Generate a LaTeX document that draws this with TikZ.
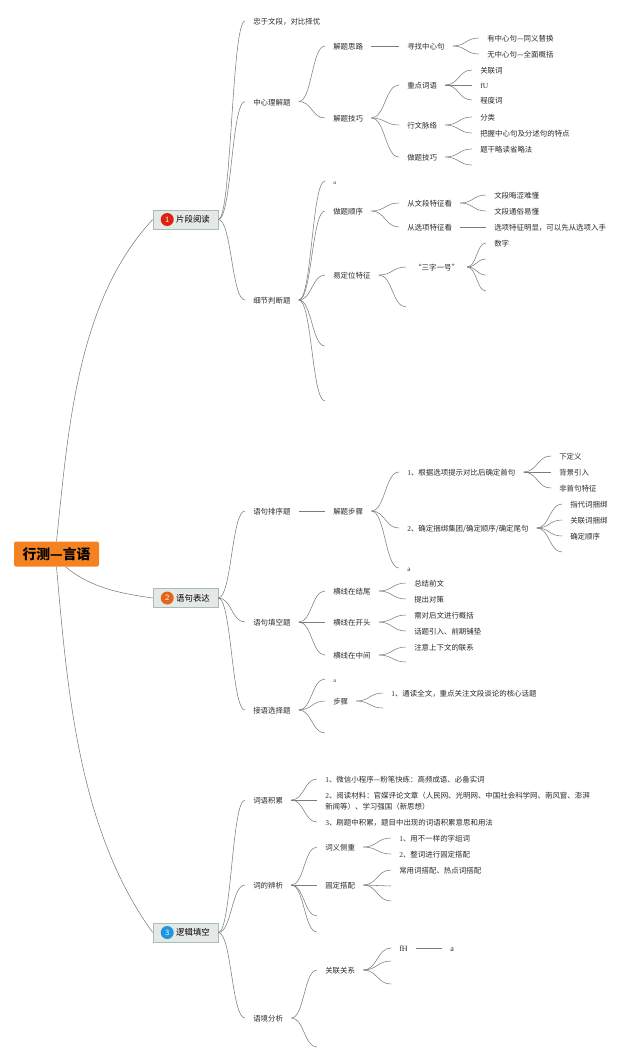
\documentclass[tikz,border=0pt]{standalone}
\usepackage{fontspec}
\setmainfont{Liberation Serif}
\newfontfamily\cjk{Noto Sans CJK SC}
\newcommand{\lat}[1]{{\rmfamily #1}}
\usetikzlibrary{calc}
\definecolor{rootfill}{HTML}{F58220}
\definecolor{topicfill}{HTML}{E4E9E6}
\definecolor{topicline}{HTML}{A9BDB5}
\definecolor{linkgray}{HTML}{7C7C7C}
\definecolor{inkgray}{HTML}{2A2A2A}
\definecolor{badgeone}{HTML}{DD2211}
\definecolor{badgetwo}{HTML}{E0661A}
\definecolor{badgethree}{HTML}{2196E0}
\tikzset{
  txt/.style={anchor=west, inner xsep=8pt, inner ysep=0pt, text height=8pt, text depth=0.4pt,
    text=inkgray, font=\cjk\fontsize{7.45}{11}\selectfont},
  topic/.style={rectangle, draw=topicline, fill=topicfill, minimum width=65pt, minimum height=19pt,
    inner sep=0pt, text=black, font=\cjk\fontsize{8.4}{10}\selectfont},
  badge/.style={circle, minimum size=13pt, inner sep=0pt, text=white, font=\sffamily\fontsize{8}{8}\selectfont},
  branch/.style={to path={let \p1=(\tikztostart), \p2=(\tikztotarget) in
    .. controls (0.5*\x1+0.5*\x2,\y1) and (0.5*\x1+0.5*\x2,\y2) .. (\tikztotarget)}}
}
\begin{document}
\begin{tikzpicture}[x=1pt, y=-1pt, line width=0.55pt]
  \useasboundingbox (0,0) rectangle (640,1061);
  \node[fill=rootfill, rounded corners=2pt, minimum width=85pt, minimum height=25pt, inner sep=0pt,
    font=\cjk\bfseries\fontsize{13.8}{14}\selectfont] (root) at (56.5,554) {行测—言语};
  \node[topic] (t1) at (185.5,219.5) {\hspace*{15pt}片段阅读};
  \node[topic] (t2) at (185.5,598) {\hspace*{15pt}语句表达};
  \node[topic] (t3) at (185.5,932.5) {\hspace*{15pt}逻辑填空};
  \node[badge, fill=badgeone] (n1) at ([xshift=14.5pt]t1.west) {1};
  \node[badge, fill=badgetwo] (n2) at ([xshift=14.5pt]t2.west) {2};
  \node[badge, fill=badgethree] (n3) at ([xshift=14.5pt]t3.west) {3};
  % first topic
  \node[txt] (a1) at (245,21) {忠于文段，对比择优};
  \node[txt] (a2) at (245,101.5) {中心理解题};
  \node[txt] (a21) at (325,46) {解题思路};
  \node[txt] (a211) at (399,46) {寻找中心句};
  \node[txt] (a2111) at (479,38) {有中心句—同义替换};
  \node[txt] (a2112) at (479,54) {无中心句—全面概括};
  \node[txt] (a22) at (325,118) {解题技巧};
  \node[txt] (a221) at (399,85) {重点词语};
  \node[txt] (a2211) at (472,70) {关联词};
  \node[txt] (a2212) at (472,85) {\lat{fU}};
  \node[txt] (a2213) at (472,100) {程度词};
  \node[txt] (a222) at (399,125) {行文脉络};
  \node[txt] (a2221) at (472,117) {分类};
  \node[txt] (a2222) at (472,133) {把握中心句及分述句的特点};
  \node[txt] (a223) at (399,157) {做题技巧};
  \node[txt] (a2231) at (472,149) {题干略读省略法};
  \coordinate (a2232) at (472,165);
  \node[txt] (a3) at (245,300) {细节判断题};
  \node[txt, font=\fontsize{6}{7}\selectfont] (a31) at (325,181) {a};
  \node[txt] (a32) at (325,211) {做题顺序};
  \node[txt] (a321) at (399,203) {从文段特征看};
  \node[txt] (a3211) at (486,195) {文段晦涩难懂};
  \node[txt] (a3212) at (486,211) {文段通俗易懂};
  \node[txt] (a322) at (399,227) {从选项特征看};
  \node[txt] (a3221) at (486,227) {选项特征明显，可以先从选项入手};
  \node[txt] (a33) at (325,275) {易定位特征};
  \node[txt] (a331) at (406,267) {“三字一号”};
  \node[txt] (a3311) at (486,243) {数字};
  \coordinate (a3312) at (486,259);
  \coordinate (a3313) at (486,275);
  \coordinate (a3314) at (486,291);
  \coordinate (a332) at (406,307);
  \coordinate (a34) at (325,346);
  \coordinate (a35) at (325,401);
  % second topic
  \node[txt] (b1) at (245,511) {语句排序题};
  \node[txt] (b11) at (325,511) {解题步骤};
  \node[txt] (b111) at (399,472) {\lat{1}、根据选项提示对比后确定首句};
  \node[txt] (b1111) at (551,456) {下定义};
  \node[txt] (b1112) at (551,472) {背景引入};
  \node[txt] (b1113) at (551,488) {非首句特征};
  \node[txt] (b112) at (399,528) {\lat{2}、确定捆绑集团/确定顺序/确定尾句};
  \node[txt] (b1121) at (562,504) {指代词捆绑};
  \node[txt] (b1122) at (562,520) {关联词捆绑};
  \node[txt] (b1123) at (562,536) {确定顺序};
  \coordinate (b1124) at (562,552);
  \node[txt, font=\fontsize{7}{8}\selectfont] (b113) at (399,568) {a};
  \node[txt] (b2) at (245,622) {语句填空题};
  \node[txt] (b21) at (325,591) {横线在结尾};
  \node[txt] (b211) at (406,583) {总结前文};
  \node[txt] (b212) at (406,599) {提出对策};
  \node[txt] (b22) at (325,622) {横线在开头};
  \node[txt] (b221) at (406,615) {需对后文进行概括};
  \node[txt] (b222) at (406,631) {话题引入、前期铺垫};
  \node[txt] (b23) at (325,655) {横线在中间};
  \node[txt] (b231) at (406,647) {注意上下文的联系};
  \coordinate (b232) at (406,662);
  \node[txt] (b3) at (245,710) {接语选择题};
  \node[txt, font=\fontsize{6}{7}\selectfont] (b31) at (325,679) {a};
  \node[txt] (b32) at (325,701) {步骤};
  \node[txt] (b321) at (383,693) {\lat{1}、通读全文，重点关注文段谈论的核心话题};
  \coordinate (b322) at (383,708);
  \coordinate (b33) at (325,733);
  % third topic
  \node[txt] (c1) at (245,800) {词语积累};
  \node[txt] (c11) at (317,779) {\lat{1}、微信小程序—粉笔快练：高频成语、必备实词};
  \node[txt, align=left, text height=19pt] (c12) at (317,800) {\lat{2}、阅读材料：官媒评论文章（人民网、光明网、中国社会科学网、南风窗、澎湃\\新闻等）、学习强国（新思想）};
  \node[txt] (c13) at (317,822) {\lat{3}、刷题中积累，题目中出现的词语积累意思和用法};
  \node[txt] (c2) at (245,885) {词的辨析};
  \node[txt] (c21) at (317,847) {词义侧重};
  \node[txt] (c211) at (391,838) {\lat{1}、用不一样的字组词};
  \node[txt] (c212) at (391,854) {\lat{2}、整词进行固定搭配};
  \node[txt] (c22) at (317,885) {固定搭配};
  \node[txt] (c221) at (391,870) {常用词搭配、热点词搭配};
  \coordinate (c222) at (391,886);
  \coordinate (c223) at (391,901);
  \coordinate (c23) at (317,916);
  \coordinate (c24) at (317,932);
  \node[txt] (c3) at (245,1018) {语境分析};
  \node[txt] (c31) at (317,970) {关联关系};
  \node[txt, font=\fontsize{8}{9}\selectfont] (c311) at (391,948) {fH};
  \node[txt, font=\fontsize{8}{9}\selectfont] (c3111) at (442,948) {a};
  \coordinate (c312) at (391,961);
  \coordinate (c313) at (391,984);
  \coordinate (c32) at (317,1047);
  % links
  \foreach \from/\to in {t1/a1, t1/a2, t1/a3, a2/a21, a21/a211, a211/a2111, a211/a2112, a2/a22, a22/a221,
    a221/a2211, a221/a2212, a221/a2213, a22/a222, a222/a2221, a222/a2222, a22/a223, a223/a2231,
    a3/a31, a3/a32, a32/a321, a321/a3211, a321/a3212, a32/a322, a322/a3221, a3/a33, a33/a331, a331/a3311,
    t2/b1, b1/b11, b11/b111, b111/b1111, b111/b1112, b111/b1113, b11/b112, b112/b1121, b112/b1122, b112/b1123,
    b11/b113, t2/b2, b2/b21, b21/b211, b21/b212, b2/b22, b22/b221, b22/b222, b2/b23, b23/b231,
    t2/b3, b3/b31, b3/b32, b32/b321,
    t3/c1, c1/c11, c1/c12, c1/c13, t3/c2, c2/c21, c21/c211, c21/c212, c2/c22, c22/c221,
    t3/c3, c3/c31, c31/c311, c311/c3111}
    \draw[linkgray, branch] (\from.east) to (\to.west);
  \foreach \from/\to in {a223/a2232, a331/a3312, a331/a3313, a331/a3314, a33/a332, a3/a34, a3/a35,
    b112/b1124, b23/b232, b32/b322, b3/b33, c22/c222, c22/c223, c2/c23, c2/c24, c31/c312, c31/c313, c3/c32}
    \draw[linkgray, branch] (\from.east) to (\to);
  \draw[linkgray] (root.north) to[out=84, in=-133, looseness=0.85] (t1.west);
  \draw[linkgray] ([xshift=9pt]root.south) to[out=-40, in=172, looseness=0.9] (t2.west);
  \draw[linkgray] (root.south) to[out=-85, in=126, looseness=0.85] (t3.west);
\end{tikzpicture}
\end{document}
